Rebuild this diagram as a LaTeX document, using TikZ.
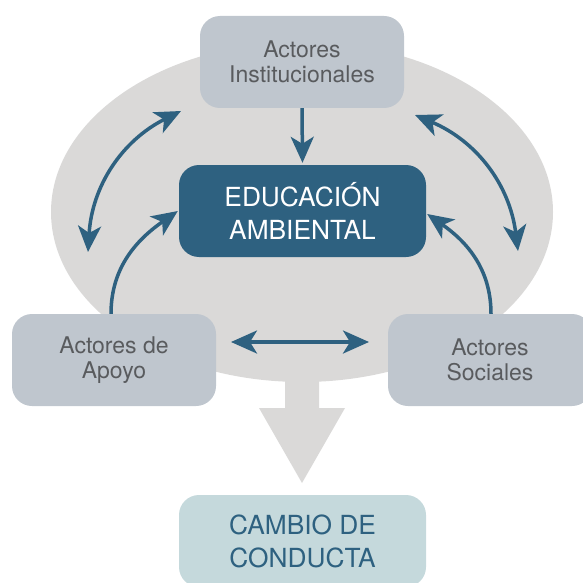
\documentclass[tikz,border=0pt]{standalone}
\usepackage{fontspec}
\setmainfont{TeX Gyre Heros}
\usetikzlibrary{arrows.meta,calc}
\definecolor{ellgray}{HTML}{DAD9D8}
\definecolor{boxgray}{HTML}{BFC6CE}
\definecolor{txtgray}{HTML}{595B5E}
\definecolor{darkblue}{HTML}{2E6180}
\definecolor{paleblue}{HTML}{C5D9DC}
\begin{document}
\begin{tikzpicture}[x=1pt,y=1pt,
  graybox/.style={rectangle,rounded corners=20pt,fill=boxgray,minimum width=204pt,minimum height=92pt,inner sep=0pt,align=center,text=txtgray,font=\fontsize{23}{25}\selectfont},
  bluebox/.style={rectangle,rounded corners=20pt,fill=darkblue,minimum width=247pt,minimum height=92pt,inner sep=0pt,align=center,text=white,font=\fontsize{26.3}{33}\selectfont},
  palebox/.style={rectangle,rounded corners=20pt,fill=paleblue,minimum width=247pt,minimum height=92pt,inner sep=0pt,align=center,text=darkblue,font=\fontsize{26.3}{33}\selectfont},
  conn/.style={draw=darkblue,line width=3.5pt,-{Stealth[length=26pt,width=23pt,inset=7pt]}},
  dconn/.style={draw=darkblue,line width=3.5pt,{Stealth[length=26pt,width=23pt,inset=7pt]}-{Stealth[length=26pt,width=23pt,inset=7pt]}}]
\useasboundingbox (0,0) rectangle (582,-583);
% background ellipse and big arrow
\fill[ellgray] (285,-370) -- (285,-408) -- (259,-408) -- (302,-483) -- (345,-408) -- (319,-408) -- (319,-370) -- cycle;
\fill[ellgray] (302,-212) ellipse [x radius=251, y radius=170];
% nodes
\node[graybox] (inst) at (302,-62) {Actores\\Institucionales};
\node[bluebox] (edu) at (302.5,-211) {EDUCACIÓN\\AMBIENTAL};
\node[graybox] (apoyo) at (114,-360) {Actores de\\Apoyo};
\node[graybox] (soc) at (490,-360) {Actores\\Sociales};
\node[palebox] (cambio) at (302.5,-541) {CAMBIO DE\\CONDUCTA};
% coordinates
\coordinate (l1) at (181,-111);
\coordinate (l2) at (88,-252);
\coordinate (r1) at (415,-115);
\coordinate (r2) at (518,-251);
\coordinate (h1) at (231,-342);
\coordinate (h2) at (369,-342);
% connectors
\draw[conn] (inst.south) -- ([yshift=2pt]edu.north);
\draw[dconn] (l1) to[bend right=30] (l2);
\draw[dconn] (r1) to[bend left=30] (r2);
\draw[dconn] (h1) -- (h2);
\draw[conn] ([xshift=-3pt]apoyo.north) to[out=90,in=215] ([xshift=-1pt]edu.west);
\draw[conn] ([xshift=1pt]soc.north) to[out=90,in=-35] ([xshift=1pt,yshift=-3pt]edu.east);
\end{tikzpicture}
\end{document}
